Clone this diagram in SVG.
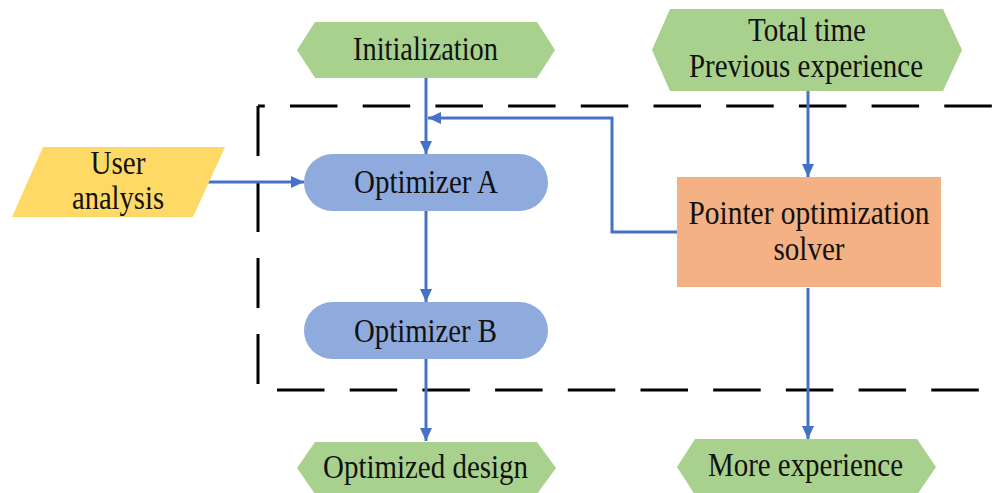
<svg xmlns="http://www.w3.org/2000/svg" width="1000" height="493" viewBox="0 0 1000 493">
  <defs>
    <marker id="arrow" markerUnits="userSpaceOnUse" markerWidth="14" markerHeight="14" viewBox="0 0 14 14" refX="13" refY="7" orient="auto">
      <path d="M0,1 L13,7 L0,13 Z" fill="#4472C4"/>
    </marker>
    <style>
      .lbl { font-family: "Liberation Serif", "Times New Roman", serif; font-size: 33px; fill: #111; text-anchor: middle; }
      .green { fill: #A9D18E; }
      .pill { fill: #8FAADC; }
      .solver { fill: #F4B183; }
      .input { fill: #FFD966; }
      .frame { fill: none; stroke: #000; stroke-width: 3; }
      .link { fill: none; stroke: #4472C4; stroke-width: 3; marker-end: url(#arrow); }
    </style>
  </defs>
  <rect width="1000" height="493" fill="#fff"/>

  <!-- dashed boundary of the optimization loop -->
  <g id="boundary">
    <line class="frame" x1="258" y1="106" x2="993" y2="106" stroke-dasharray="47.5 25.2" stroke-dashoffset="40.7"/>
    <line class="frame" x1="258" y1="106" x2="258" y2="384" stroke-dasharray="50 26"/>
    <line class="frame" x1="277" y1="390" x2="985" y2="390" stroke-dasharray="47.5 25.2"/>
  </g>

  <g id="connectors">
    <line class="link" x1="426" y1="78" x2="426" y2="154"/>
    <line class="link" x1="207" y1="182" x2="304" y2="182"/>
    <line class="link" x1="426" y1="211" x2="426" y2="302"/>
    <line class="link" x1="426" y1="359" x2="426" y2="441"/>
    <line class="link" x1="808" y1="91" x2="808" y2="177"/>
    <polyline class="link" points="677,232 612,232 612,118 428,118"/>
    <line class="link" x1="808" y1="288" x2="808" y2="439"/>
  </g>

  <g id="initialization">
    <polygon class="green" points="297,50 315,22 537,22 555,50 537,78 315,78"/>
    <text class="lbl" x="425.5" y="60" textLength="145" lengthAdjust="spacingAndGlyphs">Initialization</text>
  </g>

  <g id="inputs">
    <polygon class="green" points="652,50 670,9 943,9 962,50 943,91 670,91"/>
    <text class="lbl" x="807" y="41" textLength="118" lengthAdjust="spacingAndGlyphs">Total time</text>
    <text class="lbl" x="806" y="77" textLength="234" lengthAdjust="spacingAndGlyphs">Previous experience</text>
  </g>

  <g id="user-analysis">
    <polygon class="input" points="43,147 225,147 193,217 12,217"/>
    <text class="lbl" x="118" y="174" textLength="55" lengthAdjust="spacingAndGlyphs">User</text>
    <text class="lbl" x="118" y="209" textLength="92" lengthAdjust="spacingAndGlyphs">analysis</text>
  </g>

  <g id="optimizer-a">
    <rect class="pill" x="304" y="154" width="244" height="57" rx="28.5"/>
    <text class="lbl" x="426" y="193" textLength="144" lengthAdjust="spacingAndGlyphs">Optimizer A</text>
  </g>

  <g id="optimizer-b">
    <rect class="pill" x="304" y="302" width="244" height="57" rx="28.5"/>
    <text class="lbl" x="425.5" y="342" textLength="143" lengthAdjust="spacingAndGlyphs">Optimizer B</text>
  </g>

  <g id="pointer-solver">
    <rect class="solver" x="677" y="177" width="264" height="110"/>
    <text class="lbl" x="809" y="224" textLength="241" lengthAdjust="spacingAndGlyphs">Pointer optimization</text>
    <text class="lbl" x="809" y="260" textLength="71" lengthAdjust="spacingAndGlyphs">solver</text>
  </g>

  <g id="optimized-design">
    <polygon class="green" points="297,468 315,442 537,442 556,468 537,494 315,494"/>
    <text class="lbl" x="425.5" y="478" textLength="205" lengthAdjust="spacingAndGlyphs">Optimized design</text>
  </g>

  <g id="more-experience">
    <polygon class="green" points="677,467 695,439 917,439 936,467 917,495 695,495"/>
    <text class="lbl" x="805.5" y="476" textLength="195" lengthAdjust="spacingAndGlyphs">More experience</text>
  </g>
</svg>
